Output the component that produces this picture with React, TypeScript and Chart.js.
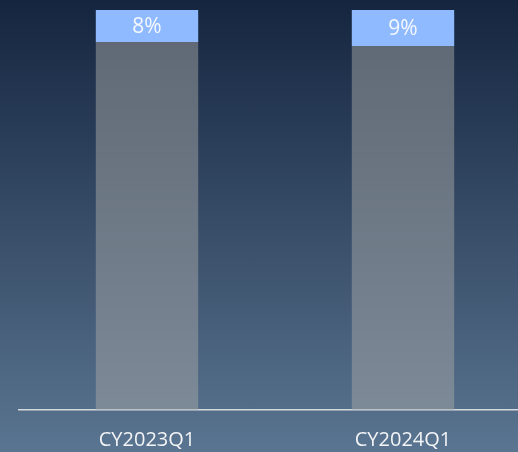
import React, { useEffect, useRef } from "react";
import { Chart, registerables } from "chart.js";

Chart.register(...registerables);

const categories = ["CY2023Q1", "CY2024Q1"];
const restValues = [92, 91];
const shareValues = [8, 9];
const shareLabels = ["8%", "9%"];

const FONT = "'Open Sans', 'Liberation Sans', sans-serif";

const labelPlugin = {
  id: "shareLabels",
  afterDatasetsDraw(chart: any) {
    const meta = chart.getDatasetMeta(1);
    const ctx = chart.ctx;
    ctx.save();
    ctx.fillStyle = "#f5f8ff";
    ctx.font = `21px ${FONT}`;
    ctx.textAlign = "center";
    ctx.textBaseline = "middle";
    meta.data.forEach((bar: any, i: number) => {
      const y = (bar.y + bar.base) / 2;
      ctx.fillText(shareLabels[i], bar.x, y + 1);
    });
    ctx.restore();
  },
};

export default function App() {
  const ref = useRef<HTMLCanvasElement>(null);
  useEffect(() => {
    document.body.style.margin = "0";
    const chart = new Chart(ref.current!, {
      type: "bar",
      data: {
        labels: categories,
        datasets: [
          {
            data: restValues,
            backgroundColor: "rgba(165,165,165,0.5)",
            borderWidth: 0,
            barPercentage: 0.4,
            categoryPercentage: 1,
          },
          {
            data: shareValues,
            backgroundColor: "#8fbaff",
            borderWidth: 0,
            barPercentage: 0.4,
            categoryPercentage: 1,
          },
        ],
      },
      options: {
        responsive: false,
        animation: false,
        layout: { padding: { left: 19, right: 9, top: 10, bottom: 0 } },
        plugins: { legend: { display: false }, tooltip: { enabled: false } },
        scales: {
          x: {
            stacked: true,
            grid: { display: false, drawTicks: false },
            border: { display: true, color: "#d6dadf", width: 1.5 },
            ticks: {
              color: "#f2f4f6",
              font: { family: FONT, size: 20 },
              padding: 18,
            },
            afterFit: (scale: any) => {
              scale.height = 42;
            },
          },
          y: {
            stacked: true,
            display: false,
            min: 0,
            max: 100,
          },
        },
      },
      plugins: [labelPlugin],
    });
    return () => chart.destroy();
  }, []);
  return (
    <div
      style={{
        position: "fixed",
        left: 0,
        top: 0,
        width: 518,
        height: 452,
        overflow: "hidden",
        background: "linear-gradient(to bottom, #15253f 0%, #5a7591 100%)",
      }}
    >
      <canvas ref={ref} width={540} height={452} style={{ display: "block" }} />
    </div>
  );
}
